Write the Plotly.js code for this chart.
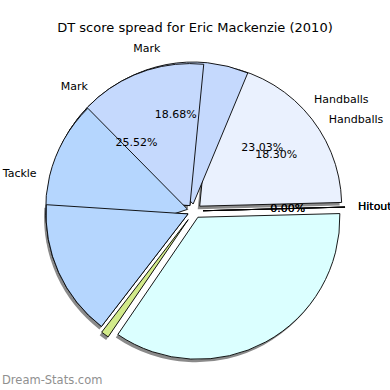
<!DOCTYPE html>
<html><head><meta charset="utf-8">
<script src="https://cdn.plot.ly/plotly-3.0.1.min.js"></script>
<style>html,body{margin:0;padding:0;background:#fff}#chart{width:390px;height:390px}</style>
</head><body><div id="chart"></div>
<script>
// ---- data ----
const titleText = 'DT score spread for Eric Mackenzie (2010)';
const categoriesA = ['Hitout', 'Handballs', 'Mark', 'Tackle', 'Rest'];
const valuesA     = [0.004, 18.30, 18.68, 17.70, 45.32];
const pctTextA    = ['0.00%', '18.30%', '18.68%', '', ''];
const outLabelsA  = ['Hitout', 'Handballs', 'Mark', 'Tackle', ''];

const categoriesB = ['Hitout', 'Handballs', 'Mark', 'Tackle', 'Other', 'Rest'];
const valuesB     = [0.004, 23.03, 25.52, 15.60, 0.90, 34.95];
const pctTextB    = ['0.00%', '23.03%', '25.52%', '', '', ''];
const outLabelsB  = ['Hitout', 'Handballs', 'Mark', '', '', ''];

// ---- styles ----
const colorsA = ['#ffffff', '#eaf1fe', '#c5d9fd', '#b5d6fe', '#dbffff'];
const colorsB = ['#ffffff', '#eaf1fe', '#c5d9fd', '#b5d6fe', '#d2ea8a', '#dbffff'];
const pullA = [0.06, 0.05, 0.05, 0.05, 0.05];
const pullB = [0.06, 0.05, 0.05, 0.05, 0.075, 0.05];
const FONT = 'DejaVu Sans, Liberation Sans, sans-serif';
const W = 390;
const CX = 194.5, CY = 211, R = 142;   // pixel centre and radius of the pie
const ROT = 88.5;                      // first wedge starts just above 3 o'clock
const CLEAR = 'rgba(0,0,0,0)';

function domainFor(radius, pulls, dx, dy) {
  const half = radius * (1 + Math.max.apply(null, pulls));
  const cx = CX + (dx || 0), cy = W - CY - (dy || 0);
  return {x: [(cx - half) / W, (cx + half) / W], y: [(cy - half) / W, (cy + half) / W]};
}
function pie(vals, cats, pulls, colors, widths, domain, extra) {
  return Object.assign({
    type: 'pie', values: vals, labels: cats, sort: false,
    direction: 'counterclockwise', rotation: ROT, domain: domain,
    pull: pulls, textinfo: 'none', hoverinfo: 'skip', showlegend: false,
    marker: {colors: colors, line: {color: '#000', width: widths}}
  }, extra || {});
}
function only(colors, k) { return colors.map((c, i) => i === k ? c : CLEAR); }
function onlyW(colors, k) { return colors.map((c, i) => i === k ? 0.9 : 0); }
function onlyT(texts, k) { return texts.map((t, i) => i === k ? t : ''); }
function skipT(texts, k) { return texts.map((t, i) => i === k ? '' : t); }
const clearA = colorsA.map(() => CLEAR), clearB = colorsB.map(() => CLEAR);
const zeroA = colorsA.map(() => 0), zeroB = colorsB.map(() => 0);
const txtFont = {family: FONT, size: 11, color: '#000'};

const domA = domainFor(R, pullA), domB = domainFor(R, pullB);
const shadowDom = domainFor(R, pullB, -2, 3);
const outDomA = domainFor(R * 1.065, pullA), outDomB = domainFor(R * 1.065, pullB);
const zeroDomA = domainFor(R * 0.62, pullA), zeroDomB = domainFor(R * 0.62, pullB);
const inside = {textinfo: 'text', textposition: 'inside', insidetextorientation: 'horizontal', textfont: txtFont};
const outside = {textinfo: 'text', textposition: 'outside', textfont: txtFont};

const traces = [
  // shadow
  pie(valuesB, categoriesB, pullB, colorsB.map(() => '#8a8a8a'), zeroB, shadowDom),
  // series B full
  pie(valuesB, categoriesB, pullB, colorsB, colorsB.map(() => 0.9), domB),
  // wedges drawn in turn: A hitout, A mark, B mark, A tackle, B tackle
  pie(valuesA, categoriesA, pullA, only(colorsA, 0), onlyW(colorsA, 0), domA),
  pie(valuesA, categoriesA, pullA, only(colorsA, 2), onlyW(colorsA, 2), domA),
  pie(valuesB, categoriesB, pullB, only(colorsB, 2), onlyW(colorsB, 2), domB),
  pie(valuesA, categoriesA, pullA, only(colorsA, 3), onlyW(colorsA, 3), domA),
  pie(valuesB, categoriesB, pullB, only(colorsB, 3), onlyW(colorsB, 3), domB),
  // percentage texts
  pie(valuesB, categoriesB, pullB, clearB, zeroB, domB, Object.assign({text: skipT(pctTextB, 0)}, inside)),
  pie(valuesA, categoriesA, pullA, clearA, zeroA, domA, Object.assign({text: skipT(pctTextA, 0)}, inside)),
  pie(valuesB, categoriesB, pullB, clearB, zeroB, zeroDomB, Object.assign({text: onlyT(pctTextB, 0)}, inside)),
  pie(valuesA, categoriesA, pullA, clearA, zeroA, zeroDomA, Object.assign({text: onlyT(pctTextA, 0)}, inside)),
  // category labels
  pie(valuesB, categoriesB, pullB, clearB, zeroB, outDomB, Object.assign({text: outLabelsB}, outside)),
  pie(valuesA, categoriesA, pullA, clearA, zeroA, outDomA, Object.assign({text: outLabelsA}, outside))
];

const layout = {
  width: W, height: W,
  margin: {l: 0, r: 0, t: 0, b: 0},
  paper_bgcolor: '#fff',
  showlegend: false,
  uniformtext: {mode: 'show', minsize: 11},
  title: {text: titleText, font: {family: FONT, size: 13, color: '#000'},
          x: 0.5, xanchor: 'center', y: 1 - 27 / W, yref: 'container', yanchor: 'middle'},
  annotations: [{text: 'Dream-Stats.com', xref: 'paper', yref: 'paper', x: 0, y: 10 / W,
                 xanchor: 'left', yanchor: 'middle', showarrow: false,
                 font: {family: FONT, size: 11.5, color: '#909090'}}]
};
Plotly.newPlot('chart', traces, layout, {staticPlot: true, displayModeBar: false});
</script></body></html>
